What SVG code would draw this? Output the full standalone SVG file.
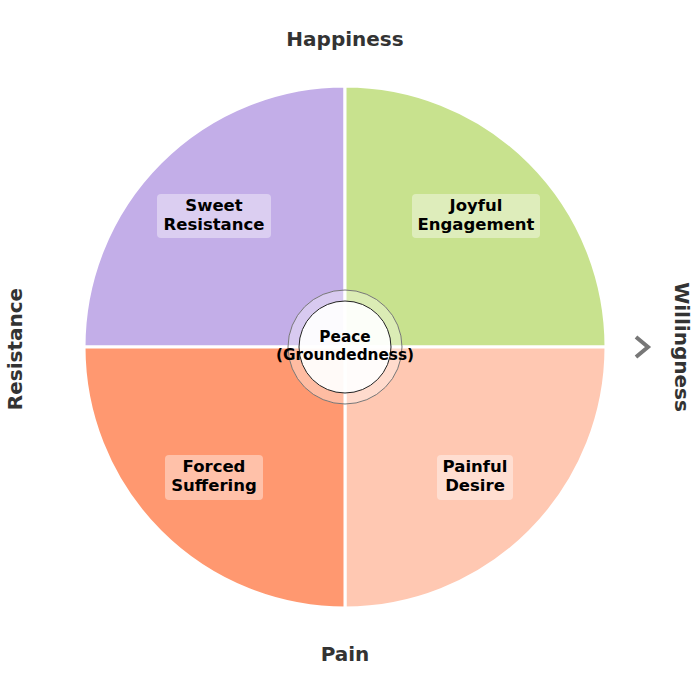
<svg xmlns="http://www.w3.org/2000/svg" width="698" height="673" viewBox="0 0 698 673">
<style>
.q{stroke:#fff;stroke-width:3}
.box{fill:#fff;fill-opacity:0.4}
.lbl{font-family:"DejaVu Sans",sans-serif;font-weight:bold;font-size:16.5px;fill:#000;text-anchor:middle}
.axis{font-family:"DejaVu Sans",sans-serif;font-weight:bold;font-size:20px;fill:#333;text-anchor:middle}
.peace{font-family:"DejaVu Sans",sans-serif;font-weight:bold;font-size:15.3px;fill:#000;text-anchor:middle}
</style>
<rect width="698" height="673" fill="#fff"/>
<g id="sweet-resistance">
<path class="q" d="M345,347 L84,347 A261,261 0 0 1 345,86 Z" fill="#C3AEE8"/>
<rect class="box" x="157" y="194" width="114" height="44" rx="4"/>
<text class="lbl" x="214" y="211">Sweet</text>
<text class="lbl" x="214" y="230">Resistance</text>
</g>
<g id="joyful-engagement">
<path class="q" d="M345,347 L345,86 A261,261 0 0 1 606,347 Z" fill="#C8E28E"/>
<rect class="box" x="412" y="194" width="128" height="44" rx="4"/>
<text class="lbl" x="476" y="211">Joyful</text>
<text class="lbl" x="476" y="230">Engagement</text>
</g>
<g id="painful-desire">
<path class="q" d="M345,347 L606,347 A261,261 0 0 1 345,608 Z" fill="#FFC8B2"/>
<rect class="box" x="437" y="455" width="76" height="45" rx="4"/>
<text class="lbl" x="475" y="472">Painful</text>
<text class="lbl" x="475" y="491">Desire</text>
</g>
<g id="forced-suffering">
<path class="q" d="M345,347 L345,608 A261,261 0 0 1 84,347 Z" fill="#FF9870"/>
<rect class="box" x="165" y="455" width="98" height="45" rx="4"/>
<text class="lbl" x="214" y="472">Forced</text>
<text class="lbl" x="214" y="491">Suffering</text>
</g>
<g id="peace">
<circle cx="345" cy="347" r="57" fill="#fff" fill-opacity="0.35" stroke="#777" stroke-width="1"/>
<circle cx="345" cy="347" r="46" fill="#fff" fill-opacity="0.92" stroke="#222" stroke-width="1"/>
<text class="peace" x="345" y="342">Peace</text>
<text class="peace" x="345" y="360">(Groundedness)</text>
</g>
<g id="axes">
<text class="axis" x="345" y="46">Happiness</text>
<text class="axis" x="345" y="661">Pain</text>
<text class="axis" transform="translate(22,349) rotate(-90)">Resistance</text>
<text class="axis" transform="translate(675,347) rotate(90)">Willingness</text>
</g>
<g id="connectors">
<path d="M636,337 L648,347 L636,357" fill="none" stroke="#777" stroke-width="4"/>
</g>
</svg>
